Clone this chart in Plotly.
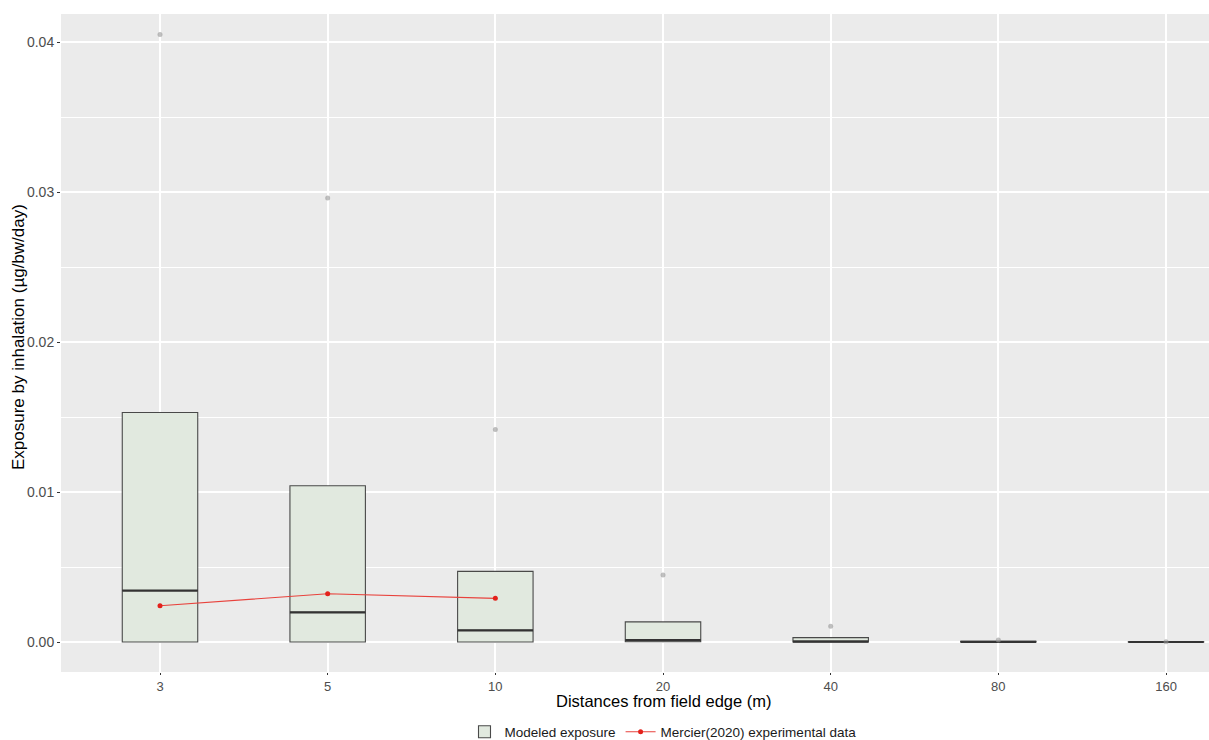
import plotly.graph_objects as go

distances = ["3", "5", "10", "20", "40", "80", "160"]
q1 = [0.0, 0.0, 0.0, 0.00002, 0.0, 0.0, 0.0]
median = [0.00343, 0.00198, 0.00078, 0.00013, 0.00003, 0.00001, 0.0]
q3 = [0.01530, 0.01042, 0.00471, 0.00134, 0.00029, 0.00004, 0.00001]
outliers = [0.0405, 0.0296, 0.01416, 0.00446, 0.00105, 0.00013, 0.00002]

mercier_dist = ["3", "5", "10"]
mercier_vals = [0.00242, 0.00322, 0.00291]

xpos = list(range(len(distances)))
pos_of = {d: i for i, d in enumerate(distances)}
box_w = 0.45

fig = go.Figure()

fig.add_trace(go.Box(
    x=xpos, q1=q1, median=median, q3=q3,
    lowerfence=q1, upperfence=q3,
    width=box_w,
    fillcolor="rgb(225,233,223)",
    line=dict(color="rgba(55,55,55,0.9)", width=1.1),
    name="Modeled exposure",
    boxpoints=False,
    hoverinfo="skip",
))

# thicker median lines
mx, my = [], []
for i, m in zip(xpos, median):
    mx += [i - box_w / 2, i + box_w / 2, None]
    my += [m, m, None]
fig.add_trace(go.Scatter(x=mx, y=my, mode="lines",
                         line=dict(color="#333333", width=2.2),
                         showlegend=False, hoverinfo="skip"))

fig.add_trace(go.Scatter(x=xpos, y=outliers, mode="markers",
                         marker=dict(color="rgba(150,150,150,0.6)", size=5),
                         showlegend=False, hoverinfo="skip"))

fig.add_trace(go.Scatter(x=[pos_of[d] for d in mercier_dist], y=mercier_vals,
                         mode="lines+markers",
                         line=dict(color="#e8423c", width=1.1),
                         marker=dict(color="#e3221c", size=5),
                         name="Mercier(2020) experimental data"))

W, H = 1209, 740
L, R, T, B = 61, 0, 14, 68
pw = W - L - R
ph = H - T - B
spacing = 167.67
xr0 = -(160 - L) / spacing
xr1 = xr0 + pw / spacing

fig.update_layout(
    width=W, height=H,
    margin=dict(l=L, r=R, t=T, b=B, autoexpand=False),
    paper_bgcolor="white",
    plot_bgcolor="#ebebeb",
    font=dict(family="Liberation Sans, Arial, sans-serif", size=14, color="#4d4d4d"),
    showlegend=True,
    legend=dict(orientation="h", x=(663 - L) / pw, xanchor="center",
                y=(H - B - 732) / ph, yanchor="middle",
                font=dict(size=13.5, color="#1a1a1a"), bgcolor="rgba(0,0,0,0)",
                itemwidth=30, tracegroupgap=0),
    xaxis=dict(
        range=[xr0, xr1], tickvals=xpos, ticktext=distances,
        showgrid=True, gridcolor="white", gridwidth=1.5,
        zeroline=False, ticks="outside", ticklen=2, tickcolor="#333333",
        tickfont=dict(size=13, color="#4d4d4d"), showline=False,
    ),
    yaxis=dict(
        range=[-(672 - 642) / 15000, (642 - 14) / 15000],
        tickvals=[0, 0.01, 0.02, 0.03, 0.04],
        ticktext=["0.00", "0.01", "0.02", "0.03", "0.04"],
        showgrid=True, gridcolor="white", gridwidth=1.5,
        minor=dict(tickvals=[0.005, 0.015, 0.025, 0.035], showgrid=True,
                   gridcolor="white", gridwidth=0.7, ticks=""),
        zeroline=False, ticks="outside", ticklen=3, tickcolor="#333333",
        tickfont=dict(size=14, color="#4d4d4d"), showline=False,
    ),
    annotations=[
        dict(text="Distances from field edge (m)", xref="paper", yref="paper",
             x=(664 - L) / pw, y=(H - B - 701) / ph, xanchor="center", yanchor="middle",
             showarrow=False, font=dict(size=16.5, color="black")),
        dict(text="Exposure by inhalation (µg/bw/day)", xref="paper", yref="paper",
             x=(18 - L) / pw, y=(H - B - 337) / ph, xanchor="center", yanchor="middle",
             textangle=-90,
             showarrow=False, font=dict(size=17, color="black")),
    ],
)

fig.write_html("out.html", config={"displayModeBar": False},
               post_script="document.body.style.margin='0';document.body.style.overflow='hidden';")
